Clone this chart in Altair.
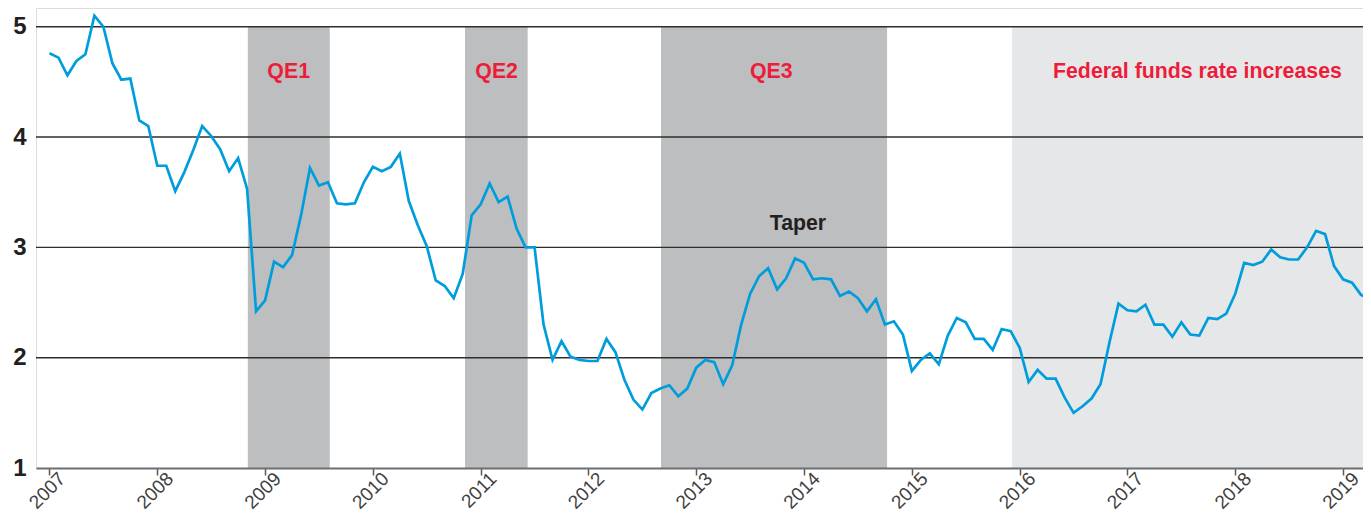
import altair as alt
import pandas as pd

# ---------------- data ----------------
START_YEAR = 2007
yields = [
    4.76, 4.72, 4.56, 4.69, 4.75, 5.10, 5.00, 4.67, 4.52, 4.53, 4.15, 4.10,
    3.74, 3.74, 3.51, 3.68, 3.88, 4.10, 4.01, 3.89, 3.69, 3.81, 3.53, 2.42,
    2.52, 2.87, 2.82, 2.93, 3.29, 3.72, 3.56, 3.59, 3.40, 3.39, 3.40, 3.59,
    3.73, 3.69, 3.73, 3.85, 3.42, 3.20, 3.01, 2.70, 2.65, 2.54, 2.76, 3.29,
    3.39, 3.58, 3.41, 3.46, 3.17, 3.00, 3.00, 2.30, 1.98, 2.15, 2.01, 1.98,
    1.97, 1.97, 2.17, 2.05, 1.80, 1.62, 1.53, 1.68, 1.72, 1.75, 1.65, 1.72,
    1.91, 1.98, 1.96, 1.76, 1.93, 2.30, 2.58, 2.74, 2.81, 2.62, 2.72, 2.90,
    2.86, 2.71, 2.72, 2.71, 2.56, 2.60, 2.54, 2.42, 2.53, 2.30, 2.33, 2.21,
    1.88, 1.98, 2.04, 1.94, 2.20, 2.36, 2.32, 2.17, 2.17, 2.07, 2.26, 2.24,
    2.09, 1.78, 1.89, 1.81, 1.81, 1.64, 1.50, 1.56, 1.63, 1.76, 2.14, 2.49,
    2.43, 2.42, 2.48, 2.30, 2.30, 2.19, 2.32, 2.21, 2.20, 2.36, 2.35, 2.40,
    2.58, 2.86, 2.84, 2.87, 2.98, 2.91, 2.89, 2.89, 3.00, 3.15, 3.12, 2.83,
    2.71, 2.68, 2.57, 2.53,
]
months = [START_YEAR + i / 12 for i in range(len(yields))]

X_DOMAIN = [2006.875, 2019.185]
Y_DOMAIN = [1, 5.17]

band_names = ["QE1", "QE2", "QE3", "Federal funds rate increases"]
band_start = [2008.84, 2010.855, 2012.673, 2015.93]
band_end = [2009.60, 2011.436, 2014.77, X_DOMAIN[1]]
band_fill = ["#bcbec0", "#bcbec0", "#bcbec0", "#e6e7e8"]

label_text = ["QE1", "QE2", "QE3", "Federal funds rate increases", "Taper"]
label_t = [2009.219, 2011.148, 2013.696, 2017.649, 2013.943]
label_y = [4.587, 4.587, 4.587, 4.587, 3.214]
label_color = ["#ed1c3a", "#ed1c3a", "#ed1c3a", "#ed1c3a", "#231f20"]

y_ticks = [1, 2, 3, 4, 5]
grid_values = [2, 3, 4, 5]
x_ticks = list(range(2007, 2020))

# ---------------- tables ----------------
line_df = pd.DataFrame({"t": months, "y": yields})
band_df = pd.DataFrame({
    "name": band_names, "start": band_start, "end": band_end, "fill": band_fill,
    "bottom": [y_ticks[0]] * len(band_names), "top": [y_ticks[-1]] * len(band_names),
})
label_df = pd.DataFrame({"text": label_text, "t": label_t, "y": label_y, "color": label_color})
grid_df = pd.DataFrame({"y": grid_values})

x_scale = alt.Scale(domain=X_DOMAIN, nice=False, zero=False)
y_scale = alt.Scale(domain=Y_DOMAIN, nice=False, zero=False)

x_axis = alt.Axis(
    values=x_ticks, format="d", title=None, grid=False,
    labelAngle=-45, labelAlign="right", labelBaseline="top",
    labelFont="Liberation Sans", labelFontSize=19, labelColor="#404041",
    labelPadding=-6, labelOffset=6, labelOverlap=False, labelFlush=False,
    tickSize=7, tickWidth=1.5, tickColor="#58595b",
    domainColor="#6d6e71", domainWidth=2.2, zindex=1,
)
y_axis = alt.Axis(
    values=y_ticks, format="d", title=None, grid=False, domain=False, ticks=False,
    labelFont="Liberation Sans", labelFontSize=24, labelFontWeight="bold",
    labelColor="#231f20", labelPadding=10, labelBaseline="middle",
    labelOverlap=False, labelFlush=False,
)

bands = alt.Chart(band_df).mark_rect().encode(
    x=alt.X("start:Q", scale=x_scale, axis=x_axis),
    x2="end:Q",
    y=alt.Y("bottom:Q", scale=y_scale, axis=y_axis),
    y2="top:Q",
    color=alt.Color("fill:N", scale=None, legend=None),
)

grid = alt.Chart(grid_df).mark_rule(color="#2e2e2e", strokeWidth=1.4).encode(
    y=alt.Y("y:Q", scale=y_scale, axis=y_axis),
)

line = alt.Chart(line_df).mark_line(color="#009ddc", strokeWidth=2.7, clip=True).encode(
    x=alt.X("t:Q", scale=x_scale, axis=x_axis),
    y=alt.Y("y:Q", scale=y_scale, axis=y_axis),
)

labels = alt.Chart(label_df).mark_text(
    font="Liberation Sans", fontSize=21.3, fontWeight="bold",
    align="center", baseline="middle",
).encode(
    x=alt.X("t:Q", scale=x_scale, axis=x_axis),
    y=alt.Y("y:Q", scale=y_scale, axis=y_axis),
    text="text:N",
    color=alt.Color("color:N", scale=None, legend=None),
)

chart = alt.layer(bands, grid, line, labels).properties(
    width=1327, height=460,
    autosize=alt.AutoSizeParams(type="none"),
    padding={"left": 28, "top": 0, "right": 0, "bottom": 47},
).configure_view(stroke=None).configure(background="white")

chart.save("out.html", embed_options={"renderer": "svg", "actions": False})
